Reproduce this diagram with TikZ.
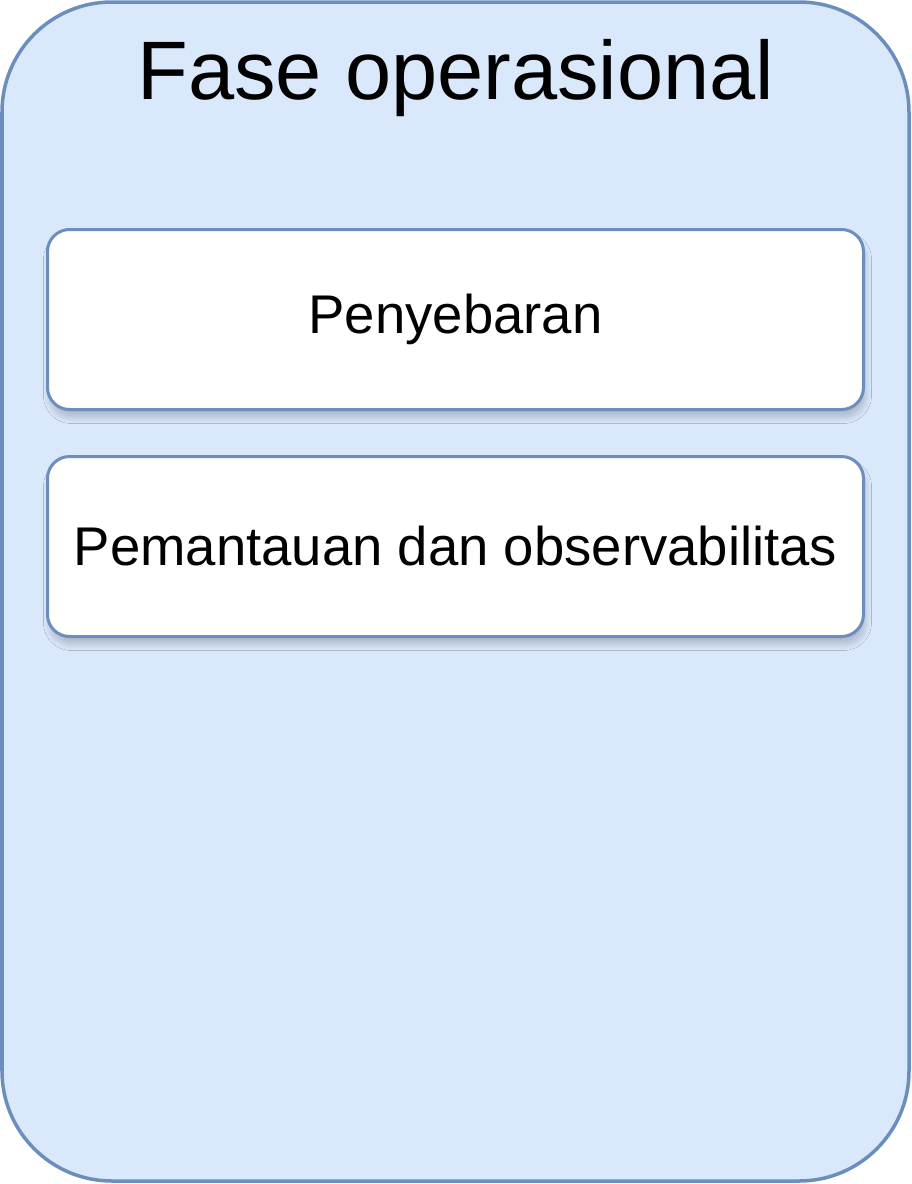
\documentclass[tikz,border=0pt]{standalone}
\usepackage{fontspec}
\setmainfont{Liberation Sans}
\usetikzlibrary{shadows.blur}
\definecolor{panelfill}{HTML}{DAE8FC}
\definecolor{panelline}{HTML}{6C8EBF}
\tikzset{
  panel/.style={draw=panelline, fill=panelfill, line width=3.5pt, rounded corners=110pt},
  card/.style={draw=panelline, fill=white, line width=3pt, rounded corners=22pt,
    minimum width=816pt, minimum height=180pt, inner sep=0pt,
    blur shadow={shadow xshift=2pt, shadow yshift=-8pt, shadow blur radius=6pt, shadow blur steps=10, shadow opacity=20}},
}
\begin{document}
\begin{tikzpicture}[x=1pt,y=-1pt]
\useasboundingbox (0,0) rectangle (912,1184);
\draw[panel] (2,2) rectangle (909,1181);
\node[font=\fontsize{83}{90}\selectfont] (title) at (456,78) {Fase operasional};
\node[card, font=\fontsize{54.5}{60}\selectfont] (deploy) at (455.5,319.5) {Penyebaran};
\node[card, font=\fontsize{54.5}{60}\selectfont] (monitor) at (455.5,546.5) {Pemantauan dan observabilitas};
\end{tikzpicture}
\end{document}
